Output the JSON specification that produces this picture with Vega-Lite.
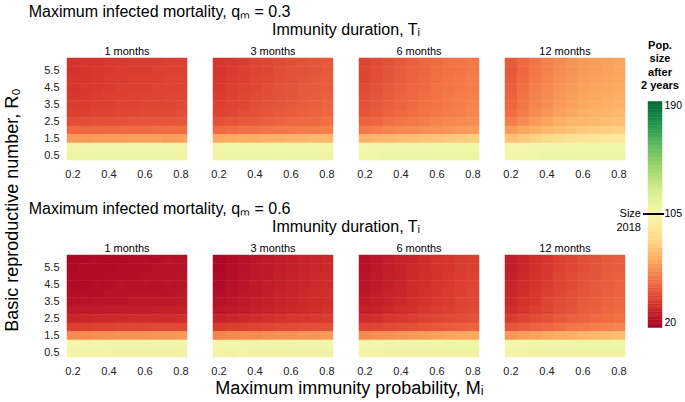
{
"$schema": "https://vega.github.io/schema/vega-lite/v6.json",
"background": "white",
"padding": {"left": 3, "top": 4, "right": 0, "bottom": 2},
"config": {
  "font": "Liberation Sans",
  "view": {"stroke": null},
  "axis": {"domain": false, "ticks": false, "grid": false, "labelFontSize": 11, "labelColor": "#222", "title": null},
  "header": {"labelFontSize": 11, "labelColor": "#000", "titleFontSize": 16, "titleFontWeight": "normal", "titleColor": "#000"},
  "title": {"fontSize": 16, "fontWeight": "normal", "color": "#000"}
},
"data": {"values": [
{"q":0.3,"T":1,"M":0.2,"R":6,"P":37},{"q":0.3,"T":1,"M":0.27,"R":6,"P":38},{"q":0.3,"T":1,"M":0.33,"R":6,"P":38},{"q":0.3,"T":1,"M":0.4,"R":6,"P":39},{"q":0.3,"T":1,"M":0.47,"R":6,"P":39},{"q":0.3,"T":1,"M":0.53,"R":6,"P":40},{"q":0.3,"T":1,"M":0.6,"R":6,"P":40},{"q":0.3,"T":1,"M":0.67,"R":6,"P":40},{"q":0.3,"T":1,"M":0.73,"R":6,"P":41},{"q":0.3,"T":1,"M":0.8,"R":6,"P":41},
{"q":0.3,"T":1,"M":0.2,"R":5.5,"P":37},{"q":0.3,"T":1,"M":0.27,"R":5.5,"P":38},{"q":0.3,"T":1,"M":0.33,"R":5.5,"P":39},{"q":0.3,"T":1,"M":0.4,"R":5.5,"P":39},{"q":0.3,"T":1,"M":0.47,"R":5.5,"P":40},{"q":0.3,"T":1,"M":0.53,"R":5.5,"P":40},{"q":0.3,"T":1,"M":0.6,"R":5.5,"P":40},{"q":0.3,"T":1,"M":0.67,"R":5.5,"P":41},{"q":0.3,"T":1,"M":0.73,"R":5.5,"P":41},{"q":0.3,"T":1,"M":0.8,"R":5.5,"P":41},
{"q":0.3,"T":1,"M":0.2,"R":5,"P":38},{"q":0.3,"T":1,"M":0.27,"R":5,"P":38},{"q":0.3,"T":1,"M":0.33,"R":5,"P":39},{"q":0.3,"T":1,"M":0.4,"R":5,"P":40},{"q":0.3,"T":1,"M":0.47,"R":5,"P":40},{"q":0.3,"T":1,"M":0.53,"R":5,"P":41},{"q":0.3,"T":1,"M":0.6,"R":5,"P":41},{"q":0.3,"T":1,"M":0.67,"R":5,"P":41},{"q":0.3,"T":1,"M":0.73,"R":5,"P":42},{"q":0.3,"T":1,"M":0.8,"R":5,"P":42},
{"q":0.3,"T":1,"M":0.2,"R":4.5,"P":38},{"q":0.3,"T":1,"M":0.27,"R":4.5,"P":39},{"q":0.3,"T":1,"M":0.33,"R":4.5,"P":39},{"q":0.3,"T":1,"M":0.4,"R":4.5,"P":40},{"q":0.3,"T":1,"M":0.47,"R":4.5,"P":41},{"q":0.3,"T":1,"M":0.53,"R":4.5,"P":41},{"q":0.3,"T":1,"M":0.6,"R":4.5,"P":41},{"q":0.3,"T":1,"M":0.67,"R":4.5,"P":42},{"q":0.3,"T":1,"M":0.73,"R":4.5,"P":42},{"q":0.3,"T":1,"M":0.8,"R":4.5,"P":42},
{"q":0.3,"T":1,"M":0.2,"R":4,"P":39},{"q":0.3,"T":1,"M":0.27,"R":4,"P":39},{"q":0.3,"T":1,"M":0.33,"R":4,"P":40},{"q":0.3,"T":1,"M":0.4,"R":4,"P":41},{"q":0.3,"T":1,"M":0.47,"R":4,"P":41},{"q":0.3,"T":1,"M":0.53,"R":4,"P":42},{"q":0.3,"T":1,"M":0.6,"R":4,"P":42},{"q":0.3,"T":1,"M":0.67,"R":4,"P":42},{"q":0.3,"T":1,"M":0.73,"R":4,"P":43},{"q":0.3,"T":1,"M":0.8,"R":4,"P":43},
{"q":0.3,"T":1,"M":0.2,"R":3.5,"P":40},{"q":0.3,"T":1,"M":0.27,"R":3.5,"P":40},{"q":0.3,"T":1,"M":0.33,"R":3.5,"P":41},{"q":0.3,"T":1,"M":0.4,"R":3.5,"P":41},{"q":0.3,"T":1,"M":0.47,"R":3.5,"P":42},{"q":0.3,"T":1,"M":0.53,"R":3.5,"P":42},{"q":0.3,"T":1,"M":0.6,"R":3.5,"P":43},{"q":0.3,"T":1,"M":0.67,"R":3.5,"P":43},{"q":0.3,"T":1,"M":0.73,"R":3.5,"P":43},{"q":0.3,"T":1,"M":0.8,"R":3.5,"P":44},
{"q":0.3,"T":1,"M":0.2,"R":3,"P":41},{"q":0.3,"T":1,"M":0.27,"R":3,"P":41},{"q":0.3,"T":1,"M":0.33,"R":3,"P":42},{"q":0.3,"T":1,"M":0.4,"R":3,"P":42},{"q":0.3,"T":1,"M":0.47,"R":3,"P":43},{"q":0.3,"T":1,"M":0.53,"R":3,"P":43},{"q":0.3,"T":1,"M":0.6,"R":3,"P":44},{"q":0.3,"T":1,"M":0.67,"R":3,"P":44},{"q":0.3,"T":1,"M":0.73,"R":3,"P":44},{"q":0.3,"T":1,"M":0.8,"R":3,"P":45},
{"q":0.3,"T":1,"M":0.2,"R":2.5,"P":45},{"q":0.3,"T":1,"M":0.27,"R":2.5,"P":45},{"q":0.3,"T":1,"M":0.33,"R":2.5,"P":46},{"q":0.3,"T":1,"M":0.4,"R":2.5,"P":46},{"q":0.3,"T":1,"M":0.47,"R":2.5,"P":46},{"q":0.3,"T":1,"M":0.53,"R":2.5,"P":47},{"q":0.3,"T":1,"M":0.6,"R":2.5,"P":47},{"q":0.3,"T":1,"M":0.67,"R":2.5,"P":47},{"q":0.3,"T":1,"M":0.73,"R":2.5,"P":47},{"q":0.3,"T":1,"M":0.8,"R":2.5,"P":48},
{"q":0.3,"T":1,"M":0.2,"R":2,"P":52},{"q":0.3,"T":1,"M":0.27,"R":2,"P":52},{"q":0.3,"T":1,"M":0.33,"R":2,"P":52},{"q":0.3,"T":1,"M":0.4,"R":2,"P":53},{"q":0.3,"T":1,"M":0.47,"R":2,"P":53},{"q":0.3,"T":1,"M":0.53,"R":2,"P":53},{"q":0.3,"T":1,"M":0.6,"R":2,"P":53},{"q":0.3,"T":1,"M":0.67,"R":2,"P":54},{"q":0.3,"T":1,"M":0.73,"R":2,"P":54},{"q":0.3,"T":1,"M":0.8,"R":2,"P":54},
{"q":0.3,"T":1,"M":0.2,"R":1.5,"P":66},{"q":0.3,"T":1,"M":0.27,"R":1.5,"P":66},{"q":0.3,"T":1,"M":0.33,"R":1.5,"P":67},{"q":0.3,"T":1,"M":0.4,"R":1.5,"P":67},{"q":0.3,"T":1,"M":0.47,"R":1.5,"P":67},{"q":0.3,"T":1,"M":0.53,"R":1.5,"P":68},{"q":0.3,"T":1,"M":0.6,"R":1.5,"P":68},{"q":0.3,"T":1,"M":0.67,"R":1.5,"P":68},{"q":0.3,"T":1,"M":0.73,"R":1.5,"P":67},{"q":0.3,"T":1,"M":0.8,"R":1.5,"P":68},
{"q":0.3,"T":1,"M":0.2,"R":1,"P":108},{"q":0.3,"T":1,"M":0.27,"R":1,"P":108},{"q":0.3,"T":1,"M":0.33,"R":1,"P":108},{"q":0.3,"T":1,"M":0.4,"R":1,"P":108},{"q":0.3,"T":1,"M":0.47,"R":1,"P":108},{"q":0.3,"T":1,"M":0.53,"R":1,"P":108},{"q":0.3,"T":1,"M":0.6,"R":1,"P":108},{"q":0.3,"T":1,"M":0.67,"R":1,"P":108},{"q":0.3,"T":1,"M":0.73,"R":1,"P":108},{"q":0.3,"T":1,"M":0.8,"R":1,"P":108},
{"q":0.3,"T":1,"M":0.2,"R":0.5,"P":110},{"q":0.3,"T":1,"M":0.27,"R":0.5,"P":110},{"q":0.3,"T":1,"M":0.33,"R":0.5,"P":110},{"q":0.3,"T":1,"M":0.4,"R":0.5,"P":110},{"q":0.3,"T":1,"M":0.47,"R":0.5,"P":110},{"q":0.3,"T":1,"M":0.53,"R":0.5,"P":110},{"q":0.3,"T":1,"M":0.6,"R":0.5,"P":110},{"q":0.3,"T":1,"M":0.67,"R":0.5,"P":110},{"q":0.3,"T":1,"M":0.73,"R":0.5,"P":110},{"q":0.3,"T":1,"M":0.8,"R":0.5,"P":110},

{"q":0.3,"T":3,"M":0.2,"R":6,"P":38},{"q":0.3,"T":3,"M":0.27,"R":6,"P":39},{"q":0.3,"T":3,"M":0.33,"R":6,"P":40},{"q":0.3,"T":3,"M":0.4,"R":6,"P":42},{"q":0.3,"T":3,"M":0.47,"R":6,"P":43},{"q":0.3,"T":3,"M":0.53,"R":6,"P":44},{"q":0.3,"T":3,"M":0.6,"R":6,"P":45},{"q":0.3,"T":3,"M":0.67,"R":6,"P":46},{"q":0.3,"T":3,"M":0.73,"R":6,"P":47},{"q":0.3,"T":3,"M":0.8,"R":6,"P":48},
{"q":0.3,"T":3,"M":0.2,"R":5.5,"P":38},{"q":0.3,"T":3,"M":0.27,"R":5.5,"P":39},{"q":0.3,"T":3,"M":0.33,"R":5.5,"P":41},{"q":0.3,"T":3,"M":0.4,"R":5.5,"P":42},{"q":0.3,"T":3,"M":0.47,"R":5.5,"P":43},{"q":0.3,"T":3,"M":0.53,"R":5.5,"P":45},{"q":0.3,"T":3,"M":0.6,"R":5.5,"P":46},{"q":0.3,"T":3,"M":0.67,"R":5.5,"P":46},{"q":0.3,"T":3,"M":0.73,"R":5.5,"P":47},{"q":0.3,"T":3,"M":0.8,"R":5.5,"P":48},
{"q":0.3,"T":3,"M":0.2,"R":5,"P":39},{"q":0.3,"T":3,"M":0.27,"R":5,"P":40},{"q":0.3,"T":3,"M":0.33,"R":5,"P":41},{"q":0.3,"T":3,"M":0.4,"R":5,"P":43},{"q":0.3,"T":3,"M":0.47,"R":5,"P":44},{"q":0.3,"T":3,"M":0.53,"R":5,"P":45},{"q":0.3,"T":3,"M":0.6,"R":5,"P":46},{"q":0.3,"T":3,"M":0.67,"R":5,"P":47},{"q":0.3,"T":3,"M":0.73,"R":5,"P":48},{"q":0.3,"T":3,"M":0.8,"R":5,"P":49},
{"q":0.3,"T":3,"M":0.2,"R":4.5,"P":39},{"q":0.3,"T":3,"M":0.27,"R":4.5,"P":41},{"q":0.3,"T":3,"M":0.33,"R":4.5,"P":42},{"q":0.3,"T":3,"M":0.4,"R":4.5,"P":43},{"q":0.3,"T":3,"M":0.47,"R":4.5,"P":45},{"q":0.3,"T":3,"M":0.53,"R":4.5,"P":46},{"q":0.3,"T":3,"M":0.6,"R":4.5,"P":47},{"q":0.3,"T":3,"M":0.67,"R":4.5,"P":48},{"q":0.3,"T":3,"M":0.73,"R":4.5,"P":48},{"q":0.3,"T":3,"M":0.8,"R":4.5,"P":49},
{"q":0.3,"T":3,"M":0.2,"R":4,"P":40},{"q":0.3,"T":3,"M":0.27,"R":4,"P":41},{"q":0.3,"T":3,"M":0.33,"R":4,"P":43},{"q":0.3,"T":3,"M":0.4,"R":4,"P":44},{"q":0.3,"T":3,"M":0.47,"R":4,"P":45},{"q":0.3,"T":3,"M":0.53,"R":4,"P":46},{"q":0.3,"T":3,"M":0.6,"R":4,"P":47},{"q":0.3,"T":3,"M":0.67,"R":4,"P":48},{"q":0.3,"T":3,"M":0.73,"R":4,"P":49},{"q":0.3,"T":3,"M":0.8,"R":4,"P":50},
{"q":0.3,"T":3,"M":0.2,"R":3.5,"P":41},{"q":0.3,"T":3,"M":0.27,"R":3.5,"P":42},{"q":0.3,"T":3,"M":0.33,"R":3.5,"P":43},{"q":0.3,"T":3,"M":0.4,"R":3.5,"P":45},{"q":0.3,"T":3,"M":0.47,"R":3.5,"P":46},{"q":0.3,"T":3,"M":0.53,"R":3.5,"P":47},{"q":0.3,"T":3,"M":0.6,"R":3.5,"P":48},{"q":0.3,"T":3,"M":0.67,"R":3.5,"P":49},{"q":0.3,"T":3,"M":0.73,"R":3.5,"P":50},{"q":0.3,"T":3,"M":0.8,"R":3.5,"P":51},
{"q":0.3,"T":3,"M":0.2,"R":3,"P":42},{"q":0.3,"T":3,"M":0.27,"R":3,"P":43},{"q":0.3,"T":3,"M":0.33,"R":3,"P":45},{"q":0.3,"T":3,"M":0.4,"R":3,"P":46},{"q":0.3,"T":3,"M":0.47,"R":3,"P":47},{"q":0.3,"T":3,"M":0.53,"R":3,"P":48},{"q":0.3,"T":3,"M":0.6,"R":3,"P":49},{"q":0.3,"T":3,"M":0.67,"R":3,"P":50},{"q":0.3,"T":3,"M":0.73,"R":3,"P":51},{"q":0.3,"T":3,"M":0.8,"R":3,"P":52},
{"q":0.3,"T":3,"M":0.2,"R":2.5,"P":46},{"q":0.3,"T":3,"M":0.27,"R":2.5,"P":47},{"q":0.3,"T":3,"M":0.33,"R":2.5,"P":48},{"q":0.3,"T":3,"M":0.4,"R":2.5,"P":49},{"q":0.3,"T":3,"M":0.47,"R":2.5,"P":50},{"q":0.3,"T":3,"M":0.53,"R":2.5,"P":51},{"q":0.3,"T":3,"M":0.6,"R":2.5,"P":52},{"q":0.3,"T":3,"M":0.67,"R":2.5,"P":53},{"q":0.3,"T":3,"M":0.73,"R":2.5,"P":53},{"q":0.3,"T":3,"M":0.8,"R":2.5,"P":54},
{"q":0.3,"T":3,"M":0.2,"R":2,"P":53},{"q":0.3,"T":3,"M":0.27,"R":2,"P":54},{"q":0.3,"T":3,"M":0.33,"R":2,"P":55},{"q":0.3,"T":3,"M":0.4,"R":2,"P":55},{"q":0.3,"T":3,"M":0.47,"R":2,"P":56},{"q":0.3,"T":3,"M":0.53,"R":2,"P":57},{"q":0.3,"T":3,"M":0.6,"R":2,"P":57},{"q":0.3,"T":3,"M":0.67,"R":2,"P":58},{"q":0.3,"T":3,"M":0.73,"R":2,"P":58},{"q":0.3,"T":3,"M":0.8,"R":2,"P":59},
{"q":0.3,"T":3,"M":0.2,"R":1.5,"P":70},{"q":0.3,"T":3,"M":0.27,"R":1.5,"P":71},{"q":0.3,"T":3,"M":0.33,"R":1.5,"P":72},{"q":0.3,"T":3,"M":0.4,"R":1.5,"P":72},{"q":0.3,"T":3,"M":0.47,"R":1.5,"P":73},{"q":0.3,"T":3,"M":0.53,"R":1.5,"P":73},{"q":0.3,"T":3,"M":0.6,"R":1.5,"P":74},{"q":0.3,"T":3,"M":0.67,"R":1.5,"P":74},{"q":0.3,"T":3,"M":0.73,"R":1.5,"P":75},{"q":0.3,"T":3,"M":0.8,"R":1.5,"P":75},
{"q":0.3,"T":3,"M":0.2,"R":1,"P":108},{"q":0.3,"T":3,"M":0.27,"R":1,"P":109},{"q":0.3,"T":3,"M":0.33,"R":1,"P":109},{"q":0.3,"T":3,"M":0.4,"R":1,"P":108},{"q":0.3,"T":3,"M":0.47,"R":1,"P":109},{"q":0.3,"T":3,"M":0.53,"R":1,"P":109},{"q":0.3,"T":3,"M":0.6,"R":1,"P":109},{"q":0.3,"T":3,"M":0.67,"R":1,"P":108},{"q":0.3,"T":3,"M":0.73,"R":1,"P":109},{"q":0.3,"T":3,"M":0.8,"R":1,"P":109},
{"q":0.3,"T":3,"M":0.2,"R":0.5,"P":110},{"q":0.3,"T":3,"M":0.27,"R":0.5,"P":110},{"q":0.3,"T":3,"M":0.33,"R":0.5,"P":110},{"q":0.3,"T":3,"M":0.4,"R":0.5,"P":110},{"q":0.3,"T":3,"M":0.47,"R":0.5,"P":110},{"q":0.3,"T":3,"M":0.53,"R":0.5,"P":110},{"q":0.3,"T":3,"M":0.6,"R":0.5,"P":110},{"q":0.3,"T":3,"M":0.67,"R":0.5,"P":110},{"q":0.3,"T":3,"M":0.73,"R":0.5,"P":110},{"q":0.3,"T":3,"M":0.8,"R":0.5,"P":110},

{"q":0.3,"T":6,"M":0.2,"R":6,"P":42},{"q":0.3,"T":6,"M":0.27,"R":6,"P":44},{"q":0.3,"T":6,"M":0.33,"R":6,"P":46},{"q":0.3,"T":6,"M":0.4,"R":6,"P":48},{"q":0.3,"T":6,"M":0.47,"R":6,"P":50},{"q":0.3,"T":6,"M":0.53,"R":6,"P":52},{"q":0.3,"T":6,"M":0.6,"R":6,"P":53},{"q":0.3,"T":6,"M":0.67,"R":6,"P":55},{"q":0.3,"T":6,"M":0.73,"R":6,"P":56},{"q":0.3,"T":6,"M":0.8,"R":6,"P":57},
{"q":0.3,"T":6,"M":0.2,"R":5.5,"P":43},{"q":0.3,"T":6,"M":0.27,"R":5.5,"P":45},{"q":0.3,"T":6,"M":0.33,"R":5.5,"P":47},{"q":0.3,"T":6,"M":0.4,"R":5.5,"P":49},{"q":0.3,"T":6,"M":0.47,"R":5.5,"P":51},{"q":0.3,"T":6,"M":0.53,"R":5.5,"P":52},{"q":0.3,"T":6,"M":0.6,"R":5.5,"P":54},{"q":0.3,"T":6,"M":0.67,"R":5.5,"P":55},{"q":0.3,"T":6,"M":0.73,"R":5.5,"P":56},{"q":0.3,"T":6,"M":0.8,"R":5.5,"P":57},
{"q":0.3,"T":6,"M":0.2,"R":5,"P":43},{"q":0.3,"T":6,"M":0.27,"R":5,"P":45},{"q":0.3,"T":6,"M":0.33,"R":5,"P":47},{"q":0.3,"T":6,"M":0.4,"R":5,"P":49},{"q":0.3,"T":6,"M":0.47,"R":5,"P":51},{"q":0.3,"T":6,"M":0.53,"R":5,"P":53},{"q":0.3,"T":6,"M":0.6,"R":5,"P":54},{"q":0.3,"T":6,"M":0.67,"R":5,"P":56},{"q":0.3,"T":6,"M":0.73,"R":5,"P":57},{"q":0.3,"T":6,"M":0.8,"R":5,"P":58},
{"q":0.3,"T":6,"M":0.2,"R":4.5,"P":44},{"q":0.3,"T":6,"M":0.27,"R":4.5,"P":46},{"q":0.3,"T":6,"M":0.33,"R":4.5,"P":48},{"q":0.3,"T":6,"M":0.4,"R":4.5,"P":50},{"q":0.3,"T":6,"M":0.47,"R":4.5,"P":52},{"q":0.3,"T":6,"M":0.53,"R":4.5,"P":53},{"q":0.3,"T":6,"M":0.6,"R":4.5,"P":55},{"q":0.3,"T":6,"M":0.67,"R":4.5,"P":56},{"q":0.3,"T":6,"M":0.73,"R":4.5,"P":57},{"q":0.3,"T":6,"M":0.8,"R":4.5,"P":58},
{"q":0.3,"T":6,"M":0.2,"R":4,"P":45},{"q":0.3,"T":6,"M":0.27,"R":4,"P":47},{"q":0.3,"T":6,"M":0.33,"R":4,"P":49},{"q":0.3,"T":6,"M":0.4,"R":4,"P":51},{"q":0.3,"T":6,"M":0.47,"R":4,"P":52},{"q":0.3,"T":6,"M":0.53,"R":4,"P":54},{"q":0.3,"T":6,"M":0.6,"R":4,"P":55},{"q":0.3,"T":6,"M":0.67,"R":4,"P":57},{"q":0.3,"T":6,"M":0.73,"R":4,"P":58},{"q":0.3,"T":6,"M":0.8,"R":4,"P":59},
{"q":0.3,"T":6,"M":0.2,"R":3.5,"P":46},{"q":0.3,"T":6,"M":0.27,"R":3.5,"P":48},{"q":0.3,"T":6,"M":0.33,"R":3.5,"P":50},{"q":0.3,"T":6,"M":0.4,"R":3.5,"P":51},{"q":0.3,"T":6,"M":0.47,"R":3.5,"P":53},{"q":0.3,"T":6,"M":0.53,"R":3.5,"P":55},{"q":0.3,"T":6,"M":0.6,"R":3.5,"P":56},{"q":0.3,"T":6,"M":0.67,"R":3.5,"P":57},{"q":0.3,"T":6,"M":0.73,"R":3.5,"P":58},{"q":0.3,"T":6,"M":0.8,"R":3.5,"P":60},
{"q":0.3,"T":6,"M":0.2,"R":3,"P":47},{"q":0.3,"T":6,"M":0.27,"R":3,"P":49},{"q":0.3,"T":6,"M":0.33,"R":3,"P":51},{"q":0.3,"T":6,"M":0.4,"R":3,"P":53},{"q":0.3,"T":6,"M":0.47,"R":3,"P":54},{"q":0.3,"T":6,"M":0.53,"R":3,"P":56},{"q":0.3,"T":6,"M":0.6,"R":3,"P":57},{"q":0.3,"T":6,"M":0.67,"R":3,"P":58},{"q":0.3,"T":6,"M":0.73,"R":3,"P":59},{"q":0.3,"T":6,"M":0.8,"R":3,"P":61},
{"q":0.3,"T":6,"M":0.2,"R":2.5,"P":51},{"q":0.3,"T":6,"M":0.27,"R":2.5,"P":52},{"q":0.3,"T":6,"M":0.33,"R":2.5,"P":54},{"q":0.3,"T":6,"M":0.4,"R":2.5,"P":56},{"q":0.3,"T":6,"M":0.47,"R":2.5,"P":57},{"q":0.3,"T":6,"M":0.53,"R":2.5,"P":58},{"q":0.3,"T":6,"M":0.6,"R":2.5,"P":60},{"q":0.3,"T":6,"M":0.67,"R":2.5,"P":61},{"q":0.3,"T":6,"M":0.73,"R":2.5,"P":62},{"q":0.3,"T":6,"M":0.8,"R":2.5,"P":63},
{"q":0.3,"T":6,"M":0.2,"R":2,"P":57},{"q":0.3,"T":6,"M":0.27,"R":2,"P":58},{"q":0.3,"T":6,"M":0.33,"R":2,"P":60},{"q":0.3,"T":6,"M":0.4,"R":2,"P":61},{"q":0.3,"T":6,"M":0.47,"R":2,"P":62},{"q":0.3,"T":6,"M":0.53,"R":2,"P":63},{"q":0.3,"T":6,"M":0.6,"R":2,"P":64},{"q":0.3,"T":6,"M":0.67,"R":2,"P":65},{"q":0.3,"T":6,"M":0.73,"R":2,"P":66},{"q":0.3,"T":6,"M":0.8,"R":2,"P":67},
{"q":0.3,"T":6,"M":0.2,"R":1.5,"P":73},{"q":0.3,"T":6,"M":0.27,"R":1.5,"P":74},{"q":0.3,"T":6,"M":0.33,"R":1.5,"P":76},{"q":0.3,"T":6,"M":0.4,"R":1.5,"P":77},{"q":0.3,"T":6,"M":0.47,"R":1.5,"P":78},{"q":0.3,"T":6,"M":0.53,"R":1.5,"P":79},{"q":0.3,"T":6,"M":0.6,"R":1.5,"P":80},{"q":0.3,"T":6,"M":0.67,"R":1.5,"P":81},{"q":0.3,"T":6,"M":0.73,"R":1.5,"P":82},{"q":0.3,"T":6,"M":0.8,"R":1.5,"P":83},
{"q":0.3,"T":6,"M":0.2,"R":1,"P":107},{"q":0.3,"T":6,"M":0.27,"R":1,"P":108},{"q":0.3,"T":6,"M":0.33,"R":1,"P":108},{"q":0.3,"T":6,"M":0.4,"R":1,"P":108},{"q":0.3,"T":6,"M":0.47,"R":1,"P":108},{"q":0.3,"T":6,"M":0.53,"R":1,"P":108},{"q":0.3,"T":6,"M":0.6,"R":1,"P":109},{"q":0.3,"T":6,"M":0.67,"R":1,"P":109},{"q":0.3,"T":6,"M":0.73,"R":1,"P":109},{"q":0.3,"T":6,"M":0.8,"R":1,"P":109},
{"q":0.3,"T":6,"M":0.2,"R":0.5,"P":109},{"q":0.3,"T":6,"M":0.27,"R":0.5,"P":109},{"q":0.3,"T":6,"M":0.33,"R":0.5,"P":110},{"q":0.3,"T":6,"M":0.4,"R":0.5,"P":110},{"q":0.3,"T":6,"M":0.47,"R":0.5,"P":110},{"q":0.3,"T":6,"M":0.53,"R":0.5,"P":110},{"q":0.3,"T":6,"M":0.6,"R":0.5,"P":110},{"q":0.3,"T":6,"M":0.67,"R":0.5,"P":110},{"q":0.3,"T":6,"M":0.73,"R":0.5,"P":110},{"q":0.3,"T":6,"M":0.8,"R":0.5,"P":110},

{"q":0.3,"T":12,"M":0.2,"R":6,"P":48},{"q":0.3,"T":12,"M":0.27,"R":6,"P":52},{"q":0.3,"T":12,"M":0.33,"R":6,"P":56},{"q":0.3,"T":12,"M":0.4,"R":6,"P":59},{"q":0.3,"T":12,"M":0.47,"R":6,"P":62},{"q":0.3,"T":12,"M":0.53,"R":6,"P":64},{"q":0.3,"T":12,"M":0.6,"R":6,"P":66},{"q":0.3,"T":12,"M":0.67,"R":6,"P":67},{"q":0.3,"T":12,"M":0.73,"R":6,"P":68},{"q":0.3,"T":12,"M":0.8,"R":6,"P":69},
{"q":0.3,"T":12,"M":0.2,"R":5.5,"P":48},{"q":0.3,"T":12,"M":0.27,"R":5.5,"P":52},{"q":0.3,"T":12,"M":0.33,"R":5.5,"P":56},{"q":0.3,"T":12,"M":0.4,"R":5.5,"P":59},{"q":0.3,"T":12,"M":0.47,"R":5.5,"P":62},{"q":0.3,"T":12,"M":0.53,"R":5.5,"P":64},{"q":0.3,"T":12,"M":0.6,"R":5.5,"P":66},{"q":0.3,"T":12,"M":0.67,"R":5.5,"P":67},{"q":0.3,"T":12,"M":0.73,"R":5.5,"P":68},{"q":0.3,"T":12,"M":0.8,"R":5.5,"P":69},
{"q":0.3,"T":12,"M":0.2,"R":5,"P":49},{"q":0.3,"T":12,"M":0.27,"R":5,"P":53},{"q":0.3,"T":12,"M":0.33,"R":5,"P":57},{"q":0.3,"T":12,"M":0.4,"R":5,"P":60},{"q":0.3,"T":12,"M":0.47,"R":5,"P":63},{"q":0.3,"T":12,"M":0.53,"R":5,"P":65},{"q":0.3,"T":12,"M":0.6,"R":5,"P":67},{"q":0.3,"T":12,"M":0.67,"R":5,"P":68},{"q":0.3,"T":12,"M":0.73,"R":5,"P":69},{"q":0.3,"T":12,"M":0.8,"R":5,"P":70},
{"q":0.3,"T":12,"M":0.2,"R":4.5,"P":50},{"q":0.3,"T":12,"M":0.27,"R":4.5,"P":54},{"q":0.3,"T":12,"M":0.33,"R":4.5,"P":58},{"q":0.3,"T":12,"M":0.4,"R":4.5,"P":61},{"q":0.3,"T":12,"M":0.47,"R":4.5,"P":64},{"q":0.3,"T":12,"M":0.53,"R":4.5,"P":66},{"q":0.3,"T":12,"M":0.6,"R":4.5,"P":68},{"q":0.3,"T":12,"M":0.67,"R":4.5,"P":69},{"q":0.3,"T":12,"M":0.73,"R":4.5,"P":70},{"q":0.3,"T":12,"M":0.8,"R":4.5,"P":71},
{"q":0.3,"T":12,"M":0.2,"R":4,"P":51},{"q":0.3,"T":12,"M":0.27,"R":4,"P":55},{"q":0.3,"T":12,"M":0.33,"R":4,"P":59},{"q":0.3,"T":12,"M":0.4,"R":4,"P":62},{"q":0.3,"T":12,"M":0.47,"R":4,"P":65},{"q":0.3,"T":12,"M":0.53,"R":4,"P":67},{"q":0.3,"T":12,"M":0.6,"R":4,"P":69},{"q":0.3,"T":12,"M":0.67,"R":4,"P":70},{"q":0.3,"T":12,"M":0.73,"R":4,"P":71},{"q":0.3,"T":12,"M":0.8,"R":4,"P":72},
{"q":0.3,"T":12,"M":0.2,"R":3.5,"P":52},{"q":0.3,"T":12,"M":0.27,"R":3.5,"P":56},{"q":0.3,"T":12,"M":0.33,"R":3.5,"P":60},{"q":0.3,"T":12,"M":0.4,"R":3.5,"P":63},{"q":0.3,"T":12,"M":0.47,"R":3.5,"P":66},{"q":0.3,"T":12,"M":0.53,"R":3.5,"P":68},{"q":0.3,"T":12,"M":0.6,"R":3.5,"P":70},{"q":0.3,"T":12,"M":0.67,"R":3.5,"P":71},{"q":0.3,"T":12,"M":0.73,"R":3.5,"P":72},{"q":0.3,"T":12,"M":0.8,"R":3.5,"P":73},
{"q":0.3,"T":12,"M":0.2,"R":3,"P":54},{"q":0.3,"T":12,"M":0.27,"R":3,"P":58},{"q":0.3,"T":12,"M":0.33,"R":3,"P":62},{"q":0.3,"T":12,"M":0.4,"R":3,"P":65},{"q":0.3,"T":12,"M":0.47,"R":3,"P":68},{"q":0.3,"T":12,"M":0.53,"R":3,"P":70},{"q":0.3,"T":12,"M":0.6,"R":3,"P":72},{"q":0.3,"T":12,"M":0.67,"R":3,"P":73},{"q":0.3,"T":12,"M":0.73,"R":3,"P":74},{"q":0.3,"T":12,"M":0.8,"R":3,"P":75},
{"q":0.3,"T":12,"M":0.2,"R":2.5,"P":58},{"q":0.3,"T":12,"M":0.27,"R":2.5,"P":62},{"q":0.3,"T":12,"M":0.33,"R":2.5,"P":66},{"q":0.3,"T":12,"M":0.4,"R":2.5,"P":69},{"q":0.3,"T":12,"M":0.47,"R":2.5,"P":72},{"q":0.3,"T":12,"M":0.53,"R":2.5,"P":74},{"q":0.3,"T":12,"M":0.6,"R":2.5,"P":75},{"q":0.3,"T":12,"M":0.67,"R":2.5,"P":76},{"q":0.3,"T":12,"M":0.73,"R":2.5,"P":77},{"q":0.3,"T":12,"M":0.8,"R":2.5,"P":78},
{"q":0.3,"T":12,"M":0.2,"R":2,"P":66},{"q":0.3,"T":12,"M":0.27,"R":2,"P":69},{"q":0.3,"T":12,"M":0.33,"R":2,"P":72},{"q":0.3,"T":12,"M":0.4,"R":2,"P":75},{"q":0.3,"T":12,"M":0.47,"R":2,"P":77},{"q":0.3,"T":12,"M":0.53,"R":2,"P":79},{"q":0.3,"T":12,"M":0.6,"R":2,"P":81},{"q":0.3,"T":12,"M":0.67,"R":2,"P":82},{"q":0.3,"T":12,"M":0.73,"R":2,"P":83},{"q":0.3,"T":12,"M":0.8,"R":2,"P":84},
{"q":0.3,"T":12,"M":0.2,"R":1.5,"P":78},{"q":0.3,"T":12,"M":0.27,"R":1.5,"P":81},{"q":0.3,"T":12,"M":0.33,"R":1.5,"P":84},{"q":0.3,"T":12,"M":0.4,"R":1.5,"P":87},{"q":0.3,"T":12,"M":0.47,"R":1.5,"P":89},{"q":0.3,"T":12,"M":0.53,"R":1.5,"P":91},{"q":0.3,"T":12,"M":0.6,"R":1.5,"P":93},{"q":0.3,"T":12,"M":0.67,"R":1.5,"P":94},{"q":0.3,"T":12,"M":0.73,"R":1.5,"P":95},{"q":0.3,"T":12,"M":0.8,"R":1.5,"P":96},
{"q":0.3,"T":12,"M":0.2,"R":1,"P":106},{"q":0.3,"T":12,"M":0.27,"R":1,"P":107},{"q":0.3,"T":12,"M":0.33,"R":1,"P":108},{"q":0.3,"T":12,"M":0.4,"R":1,"P":108},{"q":0.3,"T":12,"M":0.47,"R":1,"P":108},{"q":0.3,"T":12,"M":0.53,"R":1,"P":109},{"q":0.3,"T":12,"M":0.6,"R":1,"P":109},{"q":0.3,"T":12,"M":0.67,"R":1,"P":109},{"q":0.3,"T":12,"M":0.73,"R":1,"P":109},{"q":0.3,"T":12,"M":0.8,"R":1,"P":109},
{"q":0.3,"T":12,"M":0.2,"R":0.5,"P":108},{"q":0.3,"T":12,"M":0.27,"R":0.5,"P":109},{"q":0.3,"T":12,"M":0.33,"R":0.5,"P":109},{"q":0.3,"T":12,"M":0.4,"R":0.5,"P":110},{"q":0.3,"T":12,"M":0.47,"R":0.5,"P":110},{"q":0.3,"T":12,"M":0.53,"R":0.5,"P":110},{"q":0.3,"T":12,"M":0.6,"R":0.5,"P":110},{"q":0.3,"T":12,"M":0.67,"R":0.5,"P":110},{"q":0.3,"T":12,"M":0.73,"R":0.5,"P":110},{"q":0.3,"T":12,"M":0.8,"R":0.5,"P":110},

{"q":0.6,"T":1,"M":0.2,"R":6,"P":23},{"q":0.6,"T":1,"M":0.27,"R":6,"P":23},{"q":0.6,"T":1,"M":0.33,"R":6,"P":24},{"q":0.6,"T":1,"M":0.4,"R":6,"P":24},{"q":0.6,"T":1,"M":0.47,"R":6,"P":24},{"q":0.6,"T":1,"M":0.53,"R":6,"P":25},{"q":0.6,"T":1,"M":0.6,"R":6,"P":25},{"q":0.6,"T":1,"M":0.67,"R":6,"P":25},{"q":0.6,"T":1,"M":0.73,"R":6,"P":26},{"q":0.6,"T":1,"M":0.8,"R":6,"P":26},
{"q":0.6,"T":1,"M":0.2,"R":5.5,"P":23},{"q":0.6,"T":1,"M":0.27,"R":5.5,"P":24},{"q":0.6,"T":1,"M":0.33,"R":5.5,"P":24},{"q":0.6,"T":1,"M":0.4,"R":5.5,"P":24},{"q":0.6,"T":1,"M":0.47,"R":5.5,"P":25},{"q":0.6,"T":1,"M":0.53,"R":5.5,"P":25},{"q":0.6,"T":1,"M":0.6,"R":5.5,"P":25},{"q":0.6,"T":1,"M":0.67,"R":5.5,"P":26},{"q":0.6,"T":1,"M":0.73,"R":5.5,"P":26},{"q":0.6,"T":1,"M":0.8,"R":5.5,"P":26},
{"q":0.6,"T":1,"M":0.2,"R":5,"P":24},{"q":0.6,"T":1,"M":0.27,"R":5,"P":24},{"q":0.6,"T":1,"M":0.33,"R":5,"P":24},{"q":0.6,"T":1,"M":0.4,"R":5,"P":25},{"q":0.6,"T":1,"M":0.47,"R":5,"P":25},{"q":0.6,"T":1,"M":0.53,"R":5,"P":25},{"q":0.6,"T":1,"M":0.6,"R":5,"P":26},{"q":0.6,"T":1,"M":0.67,"R":5,"P":26},{"q":0.6,"T":1,"M":0.73,"R":5,"P":26},{"q":0.6,"T":1,"M":0.8,"R":5,"P":27},
{"q":0.6,"T":1,"M":0.2,"R":4.5,"P":24},{"q":0.6,"T":1,"M":0.27,"R":4.5,"P":24},{"q":0.6,"T":1,"M":0.33,"R":4.5,"P":25},{"q":0.6,"T":1,"M":0.4,"R":4.5,"P":25},{"q":0.6,"T":1,"M":0.47,"R":4.5,"P":26},{"q":0.6,"T":1,"M":0.53,"R":4.5,"P":26},{"q":0.6,"T":1,"M":0.6,"R":4.5,"P":26},{"q":0.6,"T":1,"M":0.67,"R":4.5,"P":26},{"q":0.6,"T":1,"M":0.73,"R":4.5,"P":27},{"q":0.6,"T":1,"M":0.8,"R":4.5,"P":27},
{"q":0.6,"T":1,"M":0.2,"R":4,"P":25},{"q":0.6,"T":1,"M":0.27,"R":4,"P":25},{"q":0.6,"T":1,"M":0.33,"R":4,"P":25},{"q":0.6,"T":1,"M":0.4,"R":4,"P":26},{"q":0.6,"T":1,"M":0.47,"R":4,"P":26},{"q":0.6,"T":1,"M":0.53,"R":4,"P":27},{"q":0.6,"T":1,"M":0.6,"R":4,"P":27},{"q":0.6,"T":1,"M":0.67,"R":4,"P":27},{"q":0.6,"T":1,"M":0.73,"R":4,"P":27},{"q":0.6,"T":1,"M":0.8,"R":4,"P":28},
{"q":0.6,"T":1,"M":0.2,"R":3.5,"P":26},{"q":0.6,"T":1,"M":0.27,"R":3.5,"P":26},{"q":0.6,"T":1,"M":0.33,"R":3.5,"P":27},{"q":0.6,"T":1,"M":0.4,"R":3.5,"P":27},{"q":0.6,"T":1,"M":0.47,"R":3.5,"P":27},{"q":0.6,"T":1,"M":0.53,"R":3.5,"P":28},{"q":0.6,"T":1,"M":0.6,"R":3.5,"P":28},{"q":0.6,"T":1,"M":0.67,"R":3.5,"P":28},{"q":0.6,"T":1,"M":0.73,"R":3.5,"P":28},{"q":0.6,"T":1,"M":0.8,"R":3.5,"P":29},
{"q":0.6,"T":1,"M":0.2,"R":3,"P":29},{"q":0.6,"T":1,"M":0.27,"R":3,"P":29},{"q":0.6,"T":1,"M":0.33,"R":3,"P":29},{"q":0.6,"T":1,"M":0.4,"R":3,"P":30},{"q":0.6,"T":1,"M":0.47,"R":3,"P":30},{"q":0.6,"T":1,"M":0.53,"R":3,"P":30},{"q":0.6,"T":1,"M":0.6,"R":3,"P":30},{"q":0.6,"T":1,"M":0.67,"R":3,"P":31},{"q":0.6,"T":1,"M":0.73,"R":3,"P":31},{"q":0.6,"T":1,"M":0.8,"R":3,"P":31},
{"q":0.6,"T":1,"M":0.2,"R":2.5,"P":33},{"q":0.6,"T":1,"M":0.27,"R":2.5,"P":33},{"q":0.6,"T":1,"M":0.33,"R":2.5,"P":34},{"q":0.6,"T":1,"M":0.4,"R":2.5,"P":34},{"q":0.6,"T":1,"M":0.47,"R":2.5,"P":34},{"q":0.6,"T":1,"M":0.53,"R":2.5,"P":35},{"q":0.6,"T":1,"M":0.6,"R":2.5,"P":35},{"q":0.6,"T":1,"M":0.67,"R":2.5,"P":35},{"q":0.6,"T":1,"M":0.73,"R":2.5,"P":35},{"q":0.6,"T":1,"M":0.8,"R":2.5,"P":36},
{"q":0.6,"T":1,"M":0.2,"R":2,"P":41},{"q":0.6,"T":1,"M":0.27,"R":2,"P":41},{"q":0.6,"T":1,"M":0.33,"R":2,"P":42},{"q":0.6,"T":1,"M":0.4,"R":2,"P":42},{"q":0.6,"T":1,"M":0.47,"R":2,"P":43},{"q":0.6,"T":1,"M":0.53,"R":2,"P":43},{"q":0.6,"T":1,"M":0.6,"R":2,"P":43},{"q":0.6,"T":1,"M":0.67,"R":2,"P":44},{"q":0.6,"T":1,"M":0.73,"R":2,"P":44},{"q":0.6,"T":1,"M":0.8,"R":2,"P":44},
{"q":0.6,"T":1,"M":0.2,"R":1.5,"P":62},{"q":0.6,"T":1,"M":0.27,"R":1.5,"P":62},{"q":0.6,"T":1,"M":0.33,"R":1.5,"P":63},{"q":0.6,"T":1,"M":0.4,"R":1.5,"P":63},{"q":0.6,"T":1,"M":0.47,"R":1.5,"P":64},{"q":0.6,"T":1,"M":0.53,"R":1.5,"P":64},{"q":0.6,"T":1,"M":0.6,"R":1.5,"P":64},{"q":0.6,"T":1,"M":0.67,"R":1.5,"P":65},{"q":0.6,"T":1,"M":0.73,"R":1.5,"P":65},{"q":0.6,"T":1,"M":0.8,"R":1.5,"P":66},
{"q":0.6,"T":1,"M":0.2,"R":1,"P":107},{"q":0.6,"T":1,"M":0.27,"R":1,"P":107},{"q":0.6,"T":1,"M":0.33,"R":1,"P":107},{"q":0.6,"T":1,"M":0.4,"R":1,"P":108},{"q":0.6,"T":1,"M":0.47,"R":1,"P":108},{"q":0.6,"T":1,"M":0.53,"R":1,"P":108},{"q":0.6,"T":1,"M":0.6,"R":1,"P":108},{"q":0.6,"T":1,"M":0.67,"R":1,"P":108},{"q":0.6,"T":1,"M":0.73,"R":1,"P":108},{"q":0.6,"T":1,"M":0.8,"R":1,"P":108},
{"q":0.6,"T":1,"M":0.2,"R":0.5,"P":109},{"q":0.6,"T":1,"M":0.27,"R":0.5,"P":109},{"q":0.6,"T":1,"M":0.33,"R":0.5,"P":109},{"q":0.6,"T":1,"M":0.4,"R":0.5,"P":109},{"q":0.6,"T":1,"M":0.47,"R":0.5,"P":110},{"q":0.6,"T":1,"M":0.53,"R":0.5,"P":110},{"q":0.6,"T":1,"M":0.6,"R":0.5,"P":110},{"q":0.6,"T":1,"M":0.67,"R":0.5,"P":110},{"q":0.6,"T":1,"M":0.73,"R":0.5,"P":110},{"q":0.6,"T":1,"M":0.8,"R":0.5,"P":110},

{"q":0.6,"T":3,"M":0.2,"R":6,"P":23},{"q":0.6,"T":3,"M":0.27,"R":6,"P":24},{"q":0.6,"T":3,"M":0.33,"R":6,"P":26},{"q":0.6,"T":3,"M":0.4,"R":6,"P":27},{"q":0.6,"T":3,"M":0.47,"R":6,"P":29},{"q":0.6,"T":3,"M":0.53,"R":6,"P":30},{"q":0.6,"T":3,"M":0.6,"R":6,"P":31},{"q":0.6,"T":3,"M":0.67,"R":6,"P":32},{"q":0.6,"T":3,"M":0.73,"R":6,"P":33},{"q":0.6,"T":3,"M":0.8,"R":6,"P":34},
{"q":0.6,"T":3,"M":0.2,"R":5.5,"P":23},{"q":0.6,"T":3,"M":0.27,"R":5.5,"P":25},{"q":0.6,"T":3,"M":0.33,"R":5.5,"P":26},{"q":0.6,"T":3,"M":0.4,"R":5.5,"P":28},{"q":0.6,"T":3,"M":0.47,"R":5.5,"P":29},{"q":0.6,"T":3,"M":0.53,"R":5.5,"P":30},{"q":0.6,"T":3,"M":0.6,"R":5.5,"P":31},{"q":0.6,"T":3,"M":0.67,"R":5.5,"P":32},{"q":0.6,"T":3,"M":0.73,"R":5.5,"P":33},{"q":0.6,"T":3,"M":0.8,"R":5.5,"P":34},
{"q":0.6,"T":3,"M":0.2,"R":5,"P":24},{"q":0.6,"T":3,"M":0.27,"R":5,"P":25},{"q":0.6,"T":3,"M":0.33,"R":5,"P":27},{"q":0.6,"T":3,"M":0.4,"R":5,"P":28},{"q":0.6,"T":3,"M":0.47,"R":5,"P":29},{"q":0.6,"T":3,"M":0.53,"R":5,"P":31},{"q":0.6,"T":3,"M":0.6,"R":5,"P":32},{"q":0.6,"T":3,"M":0.67,"R":5,"P":33},{"q":0.6,"T":3,"M":0.73,"R":5,"P":34},{"q":0.6,"T":3,"M":0.8,"R":5,"P":35},
{"q":0.6,"T":3,"M":0.2,"R":4.5,"P":24},{"q":0.6,"T":3,"M":0.27,"R":4.5,"P":26},{"q":0.6,"T":3,"M":0.33,"R":4.5,"P":27},{"q":0.6,"T":3,"M":0.4,"R":4.5,"P":29},{"q":0.6,"T":3,"M":0.47,"R":4.5,"P":30},{"q":0.6,"T":3,"M":0.53,"R":4.5,"P":31},{"q":0.6,"T":3,"M":0.6,"R":4.5,"P":32},{"q":0.6,"T":3,"M":0.67,"R":4.5,"P":33},{"q":0.6,"T":3,"M":0.73,"R":4.5,"P":34},{"q":0.6,"T":3,"M":0.8,"R":4.5,"P":35},
{"q":0.6,"T":3,"M":0.2,"R":4,"P":25},{"q":0.6,"T":3,"M":0.27,"R":4,"P":26},{"q":0.6,"T":3,"M":0.33,"R":4,"P":28},{"q":0.6,"T":3,"M":0.4,"R":4,"P":29},{"q":0.6,"T":3,"M":0.47,"R":4,"P":30},{"q":0.6,"T":3,"M":0.53,"R":4,"P":32},{"q":0.6,"T":3,"M":0.6,"R":4,"P":33},{"q":0.6,"T":3,"M":0.67,"R":4,"P":34},{"q":0.6,"T":3,"M":0.73,"R":4,"P":35},{"q":0.6,"T":3,"M":0.8,"R":4,"P":36},
{"q":0.6,"T":3,"M":0.2,"R":3.5,"P":26},{"q":0.6,"T":3,"M":0.27,"R":3.5,"P":27},{"q":0.6,"T":3,"M":0.33,"R":3.5,"P":29},{"q":0.6,"T":3,"M":0.4,"R":3.5,"P":30},{"q":0.6,"T":3,"M":0.47,"R":3.5,"P":31},{"q":0.6,"T":3,"M":0.53,"R":3.5,"P":32},{"q":0.6,"T":3,"M":0.6,"R":3.5,"P":33},{"q":0.6,"T":3,"M":0.67,"R":3.5,"P":34},{"q":0.6,"T":3,"M":0.73,"R":3.5,"P":35},{"q":0.6,"T":3,"M":0.8,"R":3.5,"P":36},
{"q":0.6,"T":3,"M":0.2,"R":3,"P":28},{"q":0.6,"T":3,"M":0.27,"R":3,"P":29},{"q":0.6,"T":3,"M":0.33,"R":3,"P":30},{"q":0.6,"T":3,"M":0.4,"R":3,"P":31},{"q":0.6,"T":3,"M":0.47,"R":3,"P":32},{"q":0.6,"T":3,"M":0.53,"R":3,"P":33},{"q":0.6,"T":3,"M":0.6,"R":3,"P":34},{"q":0.6,"T":3,"M":0.67,"R":3,"P":35},{"q":0.6,"T":3,"M":0.73,"R":3,"P":36},{"q":0.6,"T":3,"M":0.8,"R":3,"P":37},
{"q":0.6,"T":3,"M":0.2,"R":2.5,"P":32},{"q":0.6,"T":3,"M":0.27,"R":2.5,"P":33},{"q":0.6,"T":3,"M":0.33,"R":2.5,"P":34},{"q":0.6,"T":3,"M":0.4,"R":2.5,"P":35},{"q":0.6,"T":3,"M":0.47,"R":2.5,"P":36},{"q":0.6,"T":3,"M":0.53,"R":2.5,"P":37},{"q":0.6,"T":3,"M":0.6,"R":2.5,"P":38},{"q":0.6,"T":3,"M":0.67,"R":2.5,"P":38},{"q":0.6,"T":3,"M":0.73,"R":2.5,"P":39},{"q":0.6,"T":3,"M":0.8,"R":2.5,"P":40},
{"q":0.6,"T":3,"M":0.2,"R":2,"P":40},{"q":0.6,"T":3,"M":0.27,"R":2,"P":41},{"q":0.6,"T":3,"M":0.33,"R":2,"P":41},{"q":0.6,"T":3,"M":0.4,"R":2,"P":42},{"q":0.6,"T":3,"M":0.47,"R":2,"P":43},{"q":0.6,"T":3,"M":0.53,"R":2,"P":44},{"q":0.6,"T":3,"M":0.6,"R":2,"P":44},{"q":0.6,"T":3,"M":0.67,"R":2,"P":45},{"q":0.6,"T":3,"M":0.73,"R":2,"P":45},{"q":0.6,"T":3,"M":0.8,"R":2,"P":46},
{"q":0.6,"T":3,"M":0.2,"R":1.5,"P":60},{"q":0.6,"T":3,"M":0.27,"R":1.5,"P":61},{"q":0.6,"T":3,"M":0.33,"R":1.5,"P":62},{"q":0.6,"T":3,"M":0.4,"R":1.5,"P":62},{"q":0.6,"T":3,"M":0.47,"R":1.5,"P":63},{"q":0.6,"T":3,"M":0.53,"R":1.5,"P":64},{"q":0.6,"T":3,"M":0.6,"R":1.5,"P":64},{"q":0.6,"T":3,"M":0.67,"R":1.5,"P":65},{"q":0.6,"T":3,"M":0.73,"R":1.5,"P":65},{"q":0.6,"T":3,"M":0.8,"R":1.5,"P":66},
{"q":0.6,"T":3,"M":0.2,"R":1,"P":107},{"q":0.6,"T":3,"M":0.27,"R":1,"P":107},{"q":0.6,"T":3,"M":0.33,"R":1,"P":108},{"q":0.6,"T":3,"M":0.4,"R":1,"P":108},{"q":0.6,"T":3,"M":0.47,"R":1,"P":108},{"q":0.6,"T":3,"M":0.53,"R":1,"P":108},{"q":0.6,"T":3,"M":0.6,"R":1,"P":108},{"q":0.6,"T":3,"M":0.67,"R":1,"P":108},{"q":0.6,"T":3,"M":0.73,"R":1,"P":108},{"q":0.6,"T":3,"M":0.8,"R":1,"P":108},
{"q":0.6,"T":3,"M":0.2,"R":0.5,"P":109},{"q":0.6,"T":3,"M":0.27,"R":0.5,"P":110},{"q":0.6,"T":3,"M":0.33,"R":0.5,"P":109},{"q":0.6,"T":3,"M":0.4,"R":0.5,"P":110},{"q":0.6,"T":3,"M":0.47,"R":0.5,"P":110},{"q":0.6,"T":3,"M":0.53,"R":0.5,"P":110},{"q":0.6,"T":3,"M":0.6,"R":0.5,"P":110},{"q":0.6,"T":3,"M":0.67,"R":0.5,"P":110},{"q":0.6,"T":3,"M":0.73,"R":0.5,"P":110},{"q":0.6,"T":3,"M":0.8,"R":0.5,"P":110},

{"q":0.6,"T":6,"M":0.2,"R":6,"P":26},{"q":0.6,"T":6,"M":0.27,"R":6,"P":28},{"q":0.6,"T":6,"M":0.33,"R":6,"P":30},{"q":0.6,"T":6,"M":0.4,"R":6,"P":32},{"q":0.6,"T":6,"M":0.47,"R":6,"P":33},{"q":0.6,"T":6,"M":0.53,"R":6,"P":35},{"q":0.6,"T":6,"M":0.6,"R":6,"P":37},{"q":0.6,"T":6,"M":0.67,"R":6,"P":38},{"q":0.6,"T":6,"M":0.73,"R":6,"P":40},{"q":0.6,"T":6,"M":0.8,"R":6,"P":41},
{"q":0.6,"T":6,"M":0.2,"R":5.5,"P":26},{"q":0.6,"T":6,"M":0.27,"R":5.5,"P":28},{"q":0.6,"T":6,"M":0.33,"R":5.5,"P":30},{"q":0.6,"T":6,"M":0.4,"R":5.5,"P":32},{"q":0.6,"T":6,"M":0.47,"R":5.5,"P":34},{"q":0.6,"T":6,"M":0.53,"R":5.5,"P":35},{"q":0.6,"T":6,"M":0.6,"R":5.5,"P":37},{"q":0.6,"T":6,"M":0.67,"R":5.5,"P":38},{"q":0.6,"T":6,"M":0.73,"R":5.5,"P":40},{"q":0.6,"T":6,"M":0.8,"R":5.5,"P":41},
{"q":0.6,"T":6,"M":0.2,"R":5,"P":27},{"q":0.6,"T":6,"M":0.27,"R":5,"P":29},{"q":0.6,"T":6,"M":0.33,"R":5,"P":31},{"q":0.6,"T":6,"M":0.4,"R":5,"P":32},{"q":0.6,"T":6,"M":0.47,"R":5,"P":34},{"q":0.6,"T":6,"M":0.53,"R":5,"P":36},{"q":0.6,"T":6,"M":0.6,"R":5,"P":37},{"q":0.6,"T":6,"M":0.67,"R":5,"P":39},{"q":0.6,"T":6,"M":0.73,"R":5,"P":40},{"q":0.6,"T":6,"M":0.8,"R":5,"P":42},
{"q":0.6,"T":6,"M":0.2,"R":4.5,"P":27},{"q":0.6,"T":6,"M":0.27,"R":4.5,"P":29},{"q":0.6,"T":6,"M":0.33,"R":4.5,"P":31},{"q":0.6,"T":6,"M":0.4,"R":4.5,"P":33},{"q":0.6,"T":6,"M":0.47,"R":4.5,"P":35},{"q":0.6,"T":6,"M":0.53,"R":4.5,"P":36},{"q":0.6,"T":6,"M":0.6,"R":4.5,"P":38},{"q":0.6,"T":6,"M":0.67,"R":4.5,"P":39},{"q":0.6,"T":6,"M":0.73,"R":4.5,"P":41},{"q":0.6,"T":6,"M":0.8,"R":4.5,"P":42},
{"q":0.6,"T":6,"M":0.2,"R":4,"P":28},{"q":0.6,"T":6,"M":0.27,"R":4,"P":30},{"q":0.6,"T":6,"M":0.33,"R":4,"P":32},{"q":0.6,"T":6,"M":0.4,"R":4,"P":33},{"q":0.6,"T":6,"M":0.47,"R":4,"P":35},{"q":0.6,"T":6,"M":0.53,"R":4,"P":37},{"q":0.6,"T":6,"M":0.6,"R":4,"P":38},{"q":0.6,"T":6,"M":0.67,"R":4,"P":40},{"q":0.6,"T":6,"M":0.73,"R":4,"P":41},{"q":0.6,"T":6,"M":0.8,"R":4,"P":43},
{"q":0.6,"T":6,"M":0.2,"R":3.5,"P":29},{"q":0.6,"T":6,"M":0.27,"R":3.5,"P":31},{"q":0.6,"T":6,"M":0.33,"R":3.5,"P":32},{"q":0.6,"T":6,"M":0.4,"R":3.5,"P":34},{"q":0.6,"T":6,"M":0.47,"R":3.5,"P":36},{"q":0.6,"T":6,"M":0.53,"R":3.5,"P":37},{"q":0.6,"T":6,"M":0.6,"R":3.5,"P":39},{"q":0.6,"T":6,"M":0.67,"R":3.5,"P":40},{"q":0.6,"T":6,"M":0.73,"R":3.5,"P":42},{"q":0.6,"T":6,"M":0.8,"R":3.5,"P":43},
{"q":0.6,"T":6,"M":0.2,"R":3,"P":31},{"q":0.6,"T":6,"M":0.27,"R":3,"P":32},{"q":0.6,"T":6,"M":0.33,"R":3,"P":34},{"q":0.6,"T":6,"M":0.4,"R":3,"P":36},{"q":0.6,"T":6,"M":0.47,"R":3,"P":37},{"q":0.6,"T":6,"M":0.53,"R":3,"P":39},{"q":0.6,"T":6,"M":0.6,"R":3,"P":40},{"q":0.6,"T":6,"M":0.67,"R":3,"P":41},{"q":0.6,"T":6,"M":0.73,"R":3,"P":43},{"q":0.6,"T":6,"M":0.8,"R":3,"P":44},
{"q":0.6,"T":6,"M":0.2,"R":2.5,"P":35},{"q":0.6,"T":6,"M":0.27,"R":2.5,"P":36},{"q":0.6,"T":6,"M":0.33,"R":2.5,"P":38},{"q":0.6,"T":6,"M":0.4,"R":2.5,"P":39},{"q":0.6,"T":6,"M":0.47,"R":2.5,"P":40},{"q":0.6,"T":6,"M":0.53,"R":2.5,"P":42},{"q":0.6,"T":6,"M":0.6,"R":2.5,"P":43},{"q":0.6,"T":6,"M":0.67,"R":2.5,"P":44},{"q":0.6,"T":6,"M":0.73,"R":2.5,"P":45},{"q":0.6,"T":6,"M":0.8,"R":2.5,"P":46},
{"q":0.6,"T":6,"M":0.2,"R":2,"P":42},{"q":0.6,"T":6,"M":0.27,"R":2,"P":43},{"q":0.6,"T":6,"M":0.33,"R":2,"P":44},{"q":0.6,"T":6,"M":0.4,"R":2,"P":45},{"q":0.6,"T":6,"M":0.47,"R":2,"P":46},{"q":0.6,"T":6,"M":0.53,"R":2,"P":47},{"q":0.6,"T":6,"M":0.6,"R":2,"P":48},{"q":0.6,"T":6,"M":0.67,"R":2,"P":49},{"q":0.6,"T":6,"M":0.73,"R":2,"P":50},{"q":0.6,"T":6,"M":0.8,"R":2,"P":51},
{"q":0.6,"T":6,"M":0.2,"R":1.5,"P":62},{"q":0.6,"T":6,"M":0.27,"R":1.5,"P":63},{"q":0.6,"T":6,"M":0.33,"R":1.5,"P":64},{"q":0.6,"T":6,"M":0.4,"R":1.5,"P":65},{"q":0.6,"T":6,"M":0.47,"R":1.5,"P":66},{"q":0.6,"T":6,"M":0.53,"R":1.5,"P":67},{"q":0.6,"T":6,"M":0.6,"R":1.5,"P":68},{"q":0.6,"T":6,"M":0.67,"R":1.5,"P":69},{"q":0.6,"T":6,"M":0.73,"R":1.5,"P":70},{"q":0.6,"T":6,"M":0.8,"R":1.5,"P":70},
{"q":0.6,"T":6,"M":0.2,"R":1,"P":107},{"q":0.6,"T":6,"M":0.27,"R":1,"P":107},{"q":0.6,"T":6,"M":0.33,"R":1,"P":108},{"q":0.6,"T":6,"M":0.4,"R":1,"P":108},{"q":0.6,"T":6,"M":0.47,"R":1,"P":108},{"q":0.6,"T":6,"M":0.53,"R":1,"P":108},{"q":0.6,"T":6,"M":0.6,"R":1,"P":108},{"q":0.6,"T":6,"M":0.67,"R":1,"P":109},{"q":0.6,"T":6,"M":0.73,"R":1,"P":109},{"q":0.6,"T":6,"M":0.8,"R":1,"P":109},
{"q":0.6,"T":6,"M":0.2,"R":0.5,"P":109},{"q":0.6,"T":6,"M":0.27,"R":0.5,"P":109},{"q":0.6,"T":6,"M":0.33,"R":0.5,"P":110},{"q":0.6,"T":6,"M":0.4,"R":0.5,"P":110},{"q":0.6,"T":6,"M":0.47,"R":0.5,"P":110},{"q":0.6,"T":6,"M":0.53,"R":0.5,"P":110},{"q":0.6,"T":6,"M":0.6,"R":0.5,"P":110},{"q":0.6,"T":6,"M":0.67,"R":0.5,"P":110},{"q":0.6,"T":6,"M":0.73,"R":0.5,"P":110},{"q":0.6,"T":6,"M":0.8,"R":0.5,"P":110},

{"q":0.6,"T":12,"M":0.2,"R":6,"P":30},{"q":0.6,"T":12,"M":0.27,"R":6,"P":33},{"q":0.6,"T":12,"M":0.33,"R":6,"P":36},{"q":0.6,"T":12,"M":0.4,"R":6,"P":38},{"q":0.6,"T":12,"M":0.47,"R":6,"P":41},{"q":0.6,"T":12,"M":0.53,"R":6,"P":43},{"q":0.6,"T":12,"M":0.6,"R":6,"P":45},{"q":0.6,"T":12,"M":0.67,"R":6,"P":46},{"q":0.6,"T":12,"M":0.73,"R":6,"P":48},{"q":0.6,"T":12,"M":0.8,"R":6,"P":49},
{"q":0.6,"T":12,"M":0.2,"R":5.5,"P":30},{"q":0.6,"T":12,"M":0.27,"R":5.5,"P":33},{"q":0.6,"T":12,"M":0.33,"R":5.5,"P":36},{"q":0.6,"T":12,"M":0.4,"R":5.5,"P":39},{"q":0.6,"T":12,"M":0.47,"R":5.5,"P":41},{"q":0.6,"T":12,"M":0.53,"R":5.5,"P":43},{"q":0.6,"T":12,"M":0.6,"R":5.5,"P":45},{"q":0.6,"T":12,"M":0.67,"R":5.5,"P":47},{"q":0.6,"T":12,"M":0.73,"R":5.5,"P":48},{"q":0.6,"T":12,"M":0.8,"R":5.5,"P":49},
{"q":0.6,"T":12,"M":0.2,"R":5,"P":31},{"q":0.6,"T":12,"M":0.27,"R":5,"P":34},{"q":0.6,"T":12,"M":0.33,"R":5,"P":37},{"q":0.6,"T":12,"M":0.4,"R":5,"P":39},{"q":0.6,"T":12,"M":0.47,"R":5,"P":42},{"q":0.6,"T":12,"M":0.53,"R":5,"P":44},{"q":0.6,"T":12,"M":0.6,"R":5,"P":46},{"q":0.6,"T":12,"M":0.67,"R":5,"P":47},{"q":0.6,"T":12,"M":0.73,"R":5,"P":49},{"q":0.6,"T":12,"M":0.8,"R":5,"P":50},
{"q":0.6,"T":12,"M":0.2,"R":4.5,"P":32},{"q":0.6,"T":12,"M":0.27,"R":4.5,"P":35},{"q":0.6,"T":12,"M":0.33,"R":4.5,"P":37},{"q":0.6,"T":12,"M":0.4,"R":4.5,"P":40},{"q":0.6,"T":12,"M":0.47,"R":4.5,"P":42},{"q":0.6,"T":12,"M":0.53,"R":4.5,"P":44},{"q":0.6,"T":12,"M":0.6,"R":4.5,"P":46},{"q":0.6,"T":12,"M":0.67,"R":4.5,"P":48},{"q":0.6,"T":12,"M":0.73,"R":4.5,"P":49},{"q":0.6,"T":12,"M":0.8,"R":4.5,"P":51},
{"q":0.6,"T":12,"M":0.2,"R":4,"P":33},{"q":0.6,"T":12,"M":0.27,"R":4,"P":36},{"q":0.6,"T":12,"M":0.33,"R":4,"P":38},{"q":0.6,"T":12,"M":0.4,"R":4,"P":41},{"q":0.6,"T":12,"M":0.47,"R":4,"P":43},{"q":0.6,"T":12,"M":0.53,"R":4,"P":45},{"q":0.6,"T":12,"M":0.6,"R":4,"P":47},{"q":0.6,"T":12,"M":0.67,"R":4,"P":48},{"q":0.6,"T":12,"M":0.73,"R":4,"P":50},{"q":0.6,"T":12,"M":0.8,"R":4,"P":51},
{"q":0.6,"T":12,"M":0.2,"R":3.5,"P":34},{"q":0.6,"T":12,"M":0.27,"R":3.5,"P":37},{"q":0.6,"T":12,"M":0.33,"R":3.5,"P":39},{"q":0.6,"T":12,"M":0.4,"R":3.5,"P":42},{"q":0.6,"T":12,"M":0.47,"R":3.5,"P":44},{"q":0.6,"T":12,"M":0.53,"R":3.5,"P":46},{"q":0.6,"T":12,"M":0.6,"R":3.5,"P":48},{"q":0.6,"T":12,"M":0.67,"R":3.5,"P":49},{"q":0.6,"T":12,"M":0.73,"R":3.5,"P":51},{"q":0.6,"T":12,"M":0.8,"R":3.5,"P":52},
{"q":0.6,"T":12,"M":0.2,"R":3,"P":36},{"q":0.6,"T":12,"M":0.27,"R":3,"P":39},{"q":0.6,"T":12,"M":0.33,"R":3,"P":41},{"q":0.6,"T":12,"M":0.4,"R":3,"P":43},{"q":0.6,"T":12,"M":0.47,"R":3,"P":45},{"q":0.6,"T":12,"M":0.53,"R":3,"P":47},{"q":0.6,"T":12,"M":0.6,"R":3,"P":49},{"q":0.6,"T":12,"M":0.67,"R":3,"P":50},{"q":0.6,"T":12,"M":0.73,"R":3,"P":52},{"q":0.6,"T":12,"M":0.8,"R":3,"P":53},
{"q":0.6,"T":12,"M":0.2,"R":2.5,"P":40},{"q":0.6,"T":12,"M":0.27,"R":2.5,"P":42},{"q":0.6,"T":12,"M":0.33,"R":2.5,"P":44},{"q":0.6,"T":12,"M":0.4,"R":2.5,"P":46},{"q":0.6,"T":12,"M":0.47,"R":2.5,"P":48},{"q":0.6,"T":12,"M":0.53,"R":2.5,"P":50},{"q":0.6,"T":12,"M":0.6,"R":2.5,"P":51},{"q":0.6,"T":12,"M":0.67,"R":2.5,"P":53},{"q":0.6,"T":12,"M":0.73,"R":2.5,"P":54},{"q":0.6,"T":12,"M":0.8,"R":2.5,"P":55},
{"q":0.6,"T":12,"M":0.2,"R":2,"P":47},{"q":0.6,"T":12,"M":0.27,"R":2,"P":49},{"q":0.6,"T":12,"M":0.33,"R":2,"P":51},{"q":0.6,"T":12,"M":0.4,"R":2,"P":52},{"q":0.6,"T":12,"M":0.47,"R":2,"P":54},{"q":0.6,"T":12,"M":0.53,"R":2,"P":56},{"q":0.6,"T":12,"M":0.6,"R":2,"P":57},{"q":0.6,"T":12,"M":0.67,"R":2,"P":58},{"q":0.6,"T":12,"M":0.73,"R":2,"P":59},{"q":0.6,"T":12,"M":0.8,"R":2,"P":60},
{"q":0.6,"T":12,"M":0.2,"R":1.5,"P":65},{"q":0.6,"T":12,"M":0.27,"R":1.5,"P":67},{"q":0.6,"T":12,"M":0.33,"R":1.5,"P":68},{"q":0.6,"T":12,"M":0.4,"R":1.5,"P":70},{"q":0.6,"T":12,"M":0.47,"R":1.5,"P":71},{"q":0.6,"T":12,"M":0.53,"R":1.5,"P":72},{"q":0.6,"T":12,"M":0.6,"R":1.5,"P":74},{"q":0.6,"T":12,"M":0.67,"R":1.5,"P":75},{"q":0.6,"T":12,"M":0.73,"R":1.5,"P":76},{"q":0.6,"T":12,"M":0.8,"R":1.5,"P":77},
{"q":0.6,"T":12,"M":0.2,"R":1,"P":107},{"q":0.6,"T":12,"M":0.27,"R":1,"P":107},{"q":0.6,"T":12,"M":0.33,"R":1,"P":108},{"q":0.6,"T":12,"M":0.4,"R":1,"P":108},{"q":0.6,"T":12,"M":0.47,"R":1,"P":108},{"q":0.6,"T":12,"M":0.53,"R":1,"P":108},{"q":0.6,"T":12,"M":0.6,"R":1,"P":109},{"q":0.6,"T":12,"M":0.67,"R":1,"P":109},{"q":0.6,"T":12,"M":0.73,"R":1,"P":109},{"q":0.6,"T":12,"M":0.8,"R":1,"P":109},
{"q":0.6,"T":12,"M":0.2,"R":0.5,"P":109},{"q":0.6,"T":12,"M":0.27,"R":0.5,"P":109},{"q":0.6,"T":12,"M":0.33,"R":0.5,"P":110},{"q":0.6,"T":12,"M":0.4,"R":0.5,"P":110},{"q":0.6,"T":12,"M":0.47,"R":0.5,"P":110},{"q":0.6,"T":12,"M":0.53,"R":0.5,"P":110},{"q":0.6,"T":12,"M":0.6,"R":0.5,"P":110},{"q":0.6,"T":12,"M":0.67,"R":0.5,"P":110},{"q":0.6,"T":12,"M":0.73,"R":0.5,"P":110},{"q":0.6,"T":12,"M":0.8,"R":0.5,"P":110}
]},
"spacing": -11,
"hconcat": [
  {
    "title": {"text": "Basic reproductive number, R₀", "orient": "left", "anchor": "middle", "offset": 7, "fontSize": 18, "dx": -9},
    "vconcat": [
      {
        "title": {"text": "Maximum immunity probability, Mᵢ", "orient": "bottom", "anchor": "middle", "offset": 4, "fontSize": 18, "dx": 22},
        "spacing": 22,
        "vconcat": [
          {
            "title": {"text": "Maximum infected mortality, qₘ = 0.3", "anchor": "start", "dx": -15, "offset": 2},
            "transform": [{"filter": "datum.q == 0.3"}],
            "facet": {"column": {"field": "T", "type": "ordinal", "header": {"title": "Immunity duration, Tᵢ", "labelExpr": "datum.value + ' months'", "labelPadding": 0, "titlePadding": -2}}},
            "spacing": 24,
            "spec": {
              "width": 120, "height": 102,
              "mark": {"type": "rect", "strokeWidth": 0.5},
              "encoding": {
                "x": {"field": "M", "type": "ordinal", "scale": {"paddingInner": 0, "paddingOuter": 0}, "axis": {"values": [0.2, 0.4, 0.6, 0.8], "labelAngle": 0, "labelPadding": 7}},
                "y": {"field": "R", "type": "ordinal", "sort": "descending", "scale": {"paddingInner": 0, "paddingOuter": 0}, "axis": {"values": [0.5, 1.5, 2.5, 3.5, 4.5, 5.5], "labelPadding": 7}},
                "color": {"field": "P", "type": "quantitative", "scale": {"scheme": "redyellowgreen", "domain": [20, 190], "domainMid": 105}, "legend": null},
                "stroke": {"field": "P", "type": "quantitative", "scale": {"scheme": "redyellowgreen", "domain": [20, 190], "domainMid": 105}, "legend": null}
              }
            }
          },
          {
            "title": {"text": "Maximum infected mortality, qₘ = 0.6", "anchor": "start", "dx": -15, "offset": 2},
            "transform": [{"filter": "datum.q == 0.6"}],
            "facet": {"column": {"field": "T", "type": "ordinal", "header": {"title": "Immunity duration, Tᵢ", "labelExpr": "datum.value + ' months'", "labelPadding": 0, "titlePadding": -2}}},
            "spacing": 24,
            "spec": {
              "width": 120, "height": 102,
              "mark": {"type": "rect", "strokeWidth": 0.5},
              "encoding": {
                "x": {"field": "M", "type": "ordinal", "scale": {"paddingInner": 0, "paddingOuter": 0}, "axis": {"values": [0.2, 0.4, 0.6, 0.8], "labelAngle": 0, "labelPadding": 7}},
                "y": {"field": "R", "type": "ordinal", "sort": "descending", "scale": {"paddingInner": 0, "paddingOuter": 0}, "axis": {"values": [0.5, 1.5, 2.5, 3.5, 4.5, 5.5], "labelPadding": 7}},
                "color": {"field": "P", "type": "quantitative", "scale": {"scheme": "redyellowgreen", "domain": [20, 190], "domainMid": 105}, "legend": null},
                "stroke": {"field": "P", "type": "quantitative", "scale": {"scheme": "redyellowgreen", "domain": [20, 190], "domainMid": 105}, "legend": null}
              }
            }
          }
        ]
      }
    ]
  },
  {
    "width": 14, "height": 269,
    "title": {"text": ["Pop.", "size", "after", "2 years"], "fontSize": 11, "fontWeight": "bold", "anchor": "middle", "align": "center", "dx": 5, "lineHeight": 13.5, "offset": -33},
    "layer": [
      {
        "data": {"values": [{"v":21},{"v":23},{"v":25},{"v":27},{"v":29},{"v":31},{"v":33},{"v":35},{"v":37},{"v":39},{"v":41},{"v":43},{"v":45},{"v":47},{"v":49},{"v":51},{"v":53},{"v":55},{"v":57},{"v":59},{"v":61},{"v":63},{"v":65},{"v":67},{"v":69},{"v":71},{"v":73},{"v":75},{"v":77},{"v":79},{"v":81},{"v":83},{"v":85},{"v":87},{"v":89},{"v":91},{"v":93},{"v":95},{"v":97},{"v":99},{"v":101},{"v":103},{"v":105},{"v":107},{"v":109},{"v":111},{"v":113},{"v":115},{"v":117},{"v":119},{"v":121},{"v":123},{"v":125},{"v":127},{"v":129},{"v":131},{"v":133},{"v":135},{"v":137},{"v":139},{"v":141},{"v":143},{"v":145},{"v":147},{"v":149},{"v":151},{"v":153},{"v":155},{"v":157},{"v":159},{"v":161},{"v":163},{"v":165},{"v":167},{"v":169},{"v":171},{"v":173},{"v":175},{"v":177},{"v":179},{"v":181},{"v":183},{"v":185},{"v":187},{"v":189}]},
        "mark": {"type": "rect", "strokeWidth": 0.5},
        "encoding": {
          "x": {"datum": 0, "type": "quantitative", "scale": {"domain": [0, 1], "nice": false, "zero": false}, "axis": null},
          "x2": {"datum": 1},
          "y": {"field": "v", "type": "quantitative", "bin": {"step": 2, "extent": [20, 190]}, "scale": {"domain": [20, 222.3], "nice": false, "zero": false}, "axis": {"orient": "right", "values": [20, 105, 190], "labelPadding": 2, "labelFontSize": 10.5, "labelFlush": true, "labelColor": "#000", "format": "d", "title": null, "labelOffset": {"condition": {"test": "datum.value == 190", "value": 5}, "value": 0}}},
          "color": {"field": "v", "type": "quantitative", "scale": {"scheme": "redyellowgreen", "domain": [20, 190], "domainMid": 105}, "legend": null},
          "stroke": {"field": "v", "type": "quantitative", "scale": {"scheme": "redyellowgreen", "domain": [20, 190], "domainMid": 105}, "legend": null}
        }
      },
      {
        "data": {"values": [{"v": 105, "label": "Size 2018"}]},
        "mark": {"type": "rule", "color": "black", "strokeWidth": 2},
        "encoding": {
          "x": {"datum": -0.36, "type": "quantitative"},
          "x2": {"datum": 1.15},
          "y": {"field": "v", "type": "quantitative"}
        }
      },
      {
        "data": {"values": [{"v": 105, "label": "Size 2018"}]},
        "mark": {"type": "text", "align": "right", "baseline": "middle", "fontSize": 11, "dx": -2, "lineHeight": 14, "color": "#000"},
        "encoding": {
          "x": {"datum": -0.36, "type": "quantitative"},
          "y": {"field": "v", "type": "quantitative"},
          "text": {"value": ["Size", "2018"]}
        }
      }
    ]
  }
]
}
